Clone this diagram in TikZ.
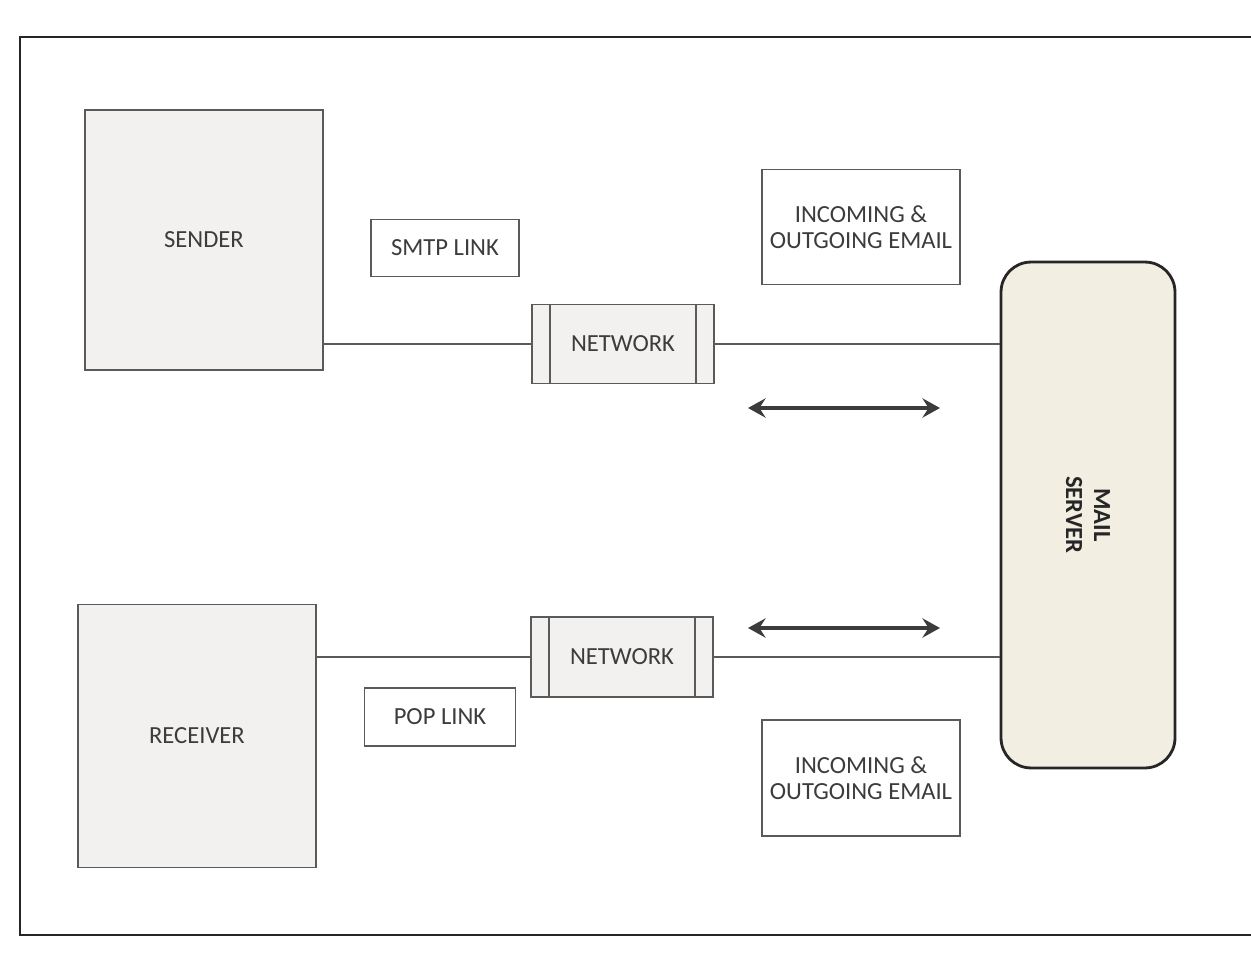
\documentclass[tikz,border=0pt]{standalone}
\usepackage{fontspec}
\setmainfont{Carlito}
\usetikzlibrary{arrows.meta, calc}
\definecolor{inkgray}{HTML}{3C3C3C}
\definecolor{linegray}{HTML}{5A5A5A}
\definecolor{boxfill}{HTML}{F3F1EF}
\definecolor{serverfill}{HTML}{F2EEE2}

\begin{document}
\begin{tikzpicture}[
    x=0.02cm, y=-0.02cm,
    font=\fontsize{14}{16.5}\selectfont,
    every node/.style={align=center, text=inkgray},
    host/.style={
        draw=linegray, line width=1.1pt, fill=boxfill,
        minimum width=4.76cm, minimum height=5.2cm, inner sep=0pt
    },
    tag/.style={
        draw=linegray, line width=0.9pt, fill=white,
        minimum height=1.14cm, inner sep=0pt
    },
    netbox/.style={
        draw=linegray, line width=1.1pt, fill=boxfill,
        minimum width=3.64cm, minimum height=1.58cm, inner sep=0pt
    },
    mailbox/.style={
        draw=linegray, line width=0.9pt, fill=white,
        minimum width=3.96cm, minimum height=2.3cm, inner sep=0pt,
        font=\fontsize{14}{15}\selectfont
    },
    server/.style={
        draw=black!85, line width=1.6pt, fill=serverfill, rounded corners=0.6cm,
        minimum width=3.48cm, minimum height=10.12cm, inner sep=0pt
    },
    link/.style={draw=linegray, line width=0.9pt},
    flow/.style={
        {Stealth[length=10pt, width=11pt, inset=3.5pt]}-{Stealth[length=10pt, width=11pt, inset=3.5pt]},
        line width=2pt, draw=inkgray
    },
    frame/.style={draw=black!85, line width=1.6pt}
]
\useasboundingbox (0,0) rectangle (1251,960);

% page frame (right edge is off the sheet)
\draw[frame] (1251,37) -- (20,37) -- (20,935) -- (1251,935);

\node[host] (sender)   at (204,240) {SENDER};
\node[host, minimum height=5.26cm] (receiver) at (197,736) {RECEIVER};

\node[tag, minimum width=2.96cm] (smtp) at (445,248) {SMTP LINK};
\node[tag, minimum width=3.02cm, minimum height=1.16cm] (pop) at (440,717) {POP LINK};

\node[netbox] (nettop) at (623,344) {NETWORK};
\node[netbox, minimum height=1.6cm] (netbot) at (622,657) {NETWORK};
\foreach \n in {nettop, netbot} {
    \draw[link, line width=1.1pt] ([xshift=0.38cm]\n.north west) -- ([xshift=0.38cm]\n.south west);
    \draw[link, line width=1.1pt] ([xshift=-0.38cm]\n.north east) -- ([xshift=-0.38cm]\n.south east);
}

\node[mailbox] (intop) at (861,227) {INCOMING \&\\OUTGOING EMAIL};
\node[mailbox, minimum height=2.32cm] (inbot) at (861,778) {INCOMING \&\\OUTGOING EMAIL};

\node[server] (mail) at (1088,515) {};
\node[rotate=-90, font=\fontsize{14}{16}\selectfont\bfseries, text=black!85] (mailtxt) at (mail.center) {MAIL\\SERVER};

% links
\draw[link] (sender.east |- nettop.west) -- (nettop.west);
\draw[link] (nettop.east) -- (nettop.east -| mail.west);
\draw[link] (receiver.east |- netbot.west) -- (netbot.west);
\draw[link] (netbot.east) -- (netbot.east -| mail.west);

% two-way traffic
\coordinate (uparrowL) at (748,408);
\coordinate (uparrowR) at (940,408);
\coordinate (loarrowL) at (748,628);
\coordinate (loarrowR) at (940,628);
\draw[flow] (uparrowL) -- (uparrowR);
\draw[flow] (loarrowL) -- (loarrowR);

\end{tikzpicture}
\end{document}
